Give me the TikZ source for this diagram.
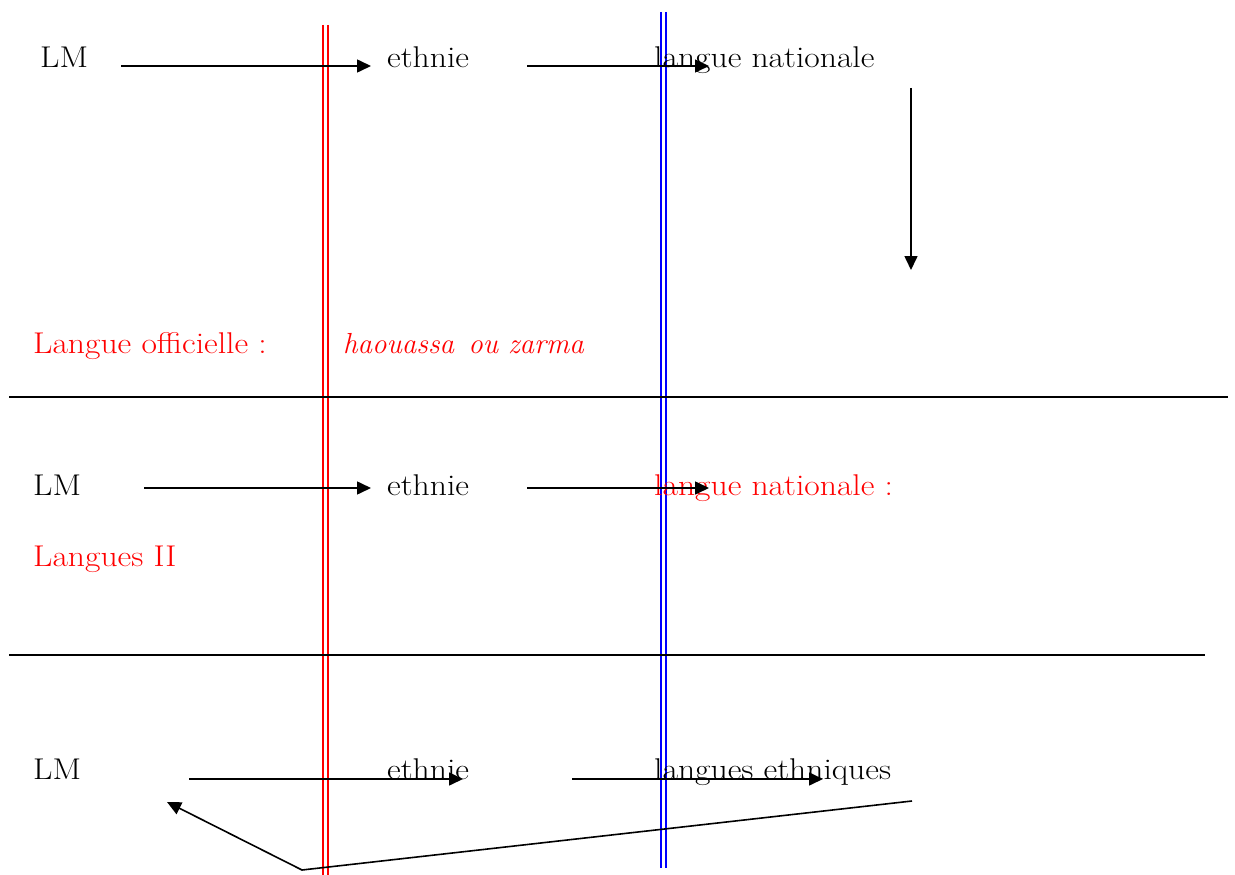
\documentclass[tikz,border=0pt]{standalone}
\usetikzlibrary{arrows.meta}
\usepackage{graphicx}
\definecolor{pred}{RGB}{255,0,0}
\definecolor{pblue}{RGB}{0,0,255}
\newcommand{\wide}[1]{\scalebox{1.12}[1]{#1}}
\begin{document}
\begin{tikzpicture}[x=1pt,y=-1pt,
  txt/.style={anchor=base west,inner sep=0pt,font=\fontsize{30}{34}\selectfont},
  rtxt/.style={txt,text=pred},
  arr/.style={draw=black,line width=1.6pt,-{Triangle[length=14pt,width=13pt]}},
  sep/.style={draw=black,line width=1.6pt},
  rline/.style={draw=pred,line width=2pt},
  bline/.style={draw=pblue,line width=2pt}]
\useasboundingbox (0,0) rectangle (1235,875);
% vertical double lines
\draw[rline] (322.5,25) -- (322.5,875);
\draw[rline] (327.5,25) -- (327.5,875);
\draw[bline] (660.5,12) -- (660.5,868);
\draw[bline] (665.5,12) -- (665.5,868);
% horizontal separators
\coordinate (h1a) at (9,397); \coordinate (h1b) at (1228,397);
\coordinate (h2a) at (9,655); \coordinate (h2b) at (1205,655);
\draw[sep] (h1a) -- (h1b);
\draw[sep] (h2a) -- (h2b);
% row 1
\node[txt] (lm1) at (40,68) {\wide{LM}};
\node[txt] (et1) at (387,68) {\wide{ethnie}};
\node[txt] (ln1) at (654,68) {\wide{langue nationale}};
\coordinate (a1s) at (121,66); \coordinate (a1e) at (371,66);
\coordinate (a2s) at (527,66); \coordinate (a2e) at (709,66);
\draw[arr] (a1s) -- (a1e);
\draw[arr] (a2s) -- (a2e);
\coordinate (vs) at (911,88); \coordinate (ve) at (911,270);
\draw[arr] (vs) -- (ve);
\node[rtxt] (lo) at (33,353) {\wide{Langue officielle :}};
\node[rtxt,font=\fontsize{29}{34}\selectfont\itshape] (hz) at (343,353) {haouassa\hspace{4pt} ou zarma};
% row 2
\node[txt] (lm2) at (33,495) {\wide{LM}};
\node[txt] (et2) at (387,495) {\wide{ethnie}};
\node[rtxt] (ln2) at (654,495) {\wide{langue nationale :}};
\coordinate (b1s) at (144,488); \coordinate (b1e) at (371,488);
\coordinate (b2s) at (527,488); \coordinate (b2e) at (709,488);
\draw[arr] (b1s) -- (b1e);
\draw[arr] (b2s) -- (b2e);
\node[rtxt] (l2) at (33,566) {\wide{Langues II}};
% row 3
\node[txt] (lm3) at (33,779) {\wide{LM}};
\node[txt] (et3) at (387,779) {\wide{ethnie}};
\node[txt] (le3) at (654,779) {\wide{langues ethniques}};
\coordinate (c1s) at (189,779); \coordinate (c1e) at (463,779);
\coordinate (c2s) at (572,779); \coordinate (c2e) at (823,779);
\draw[arr] (c1s) -- (c1e);
\draw[arr] (c2s) -- (c2e);
\coordinate (p1) at (912,801); \coordinate (p2) at (302,870); \coordinate (p3) at (167,802);
\draw[arr] (p1) -- (p2) -- (p3);
\end{tikzpicture}
\end{document}
